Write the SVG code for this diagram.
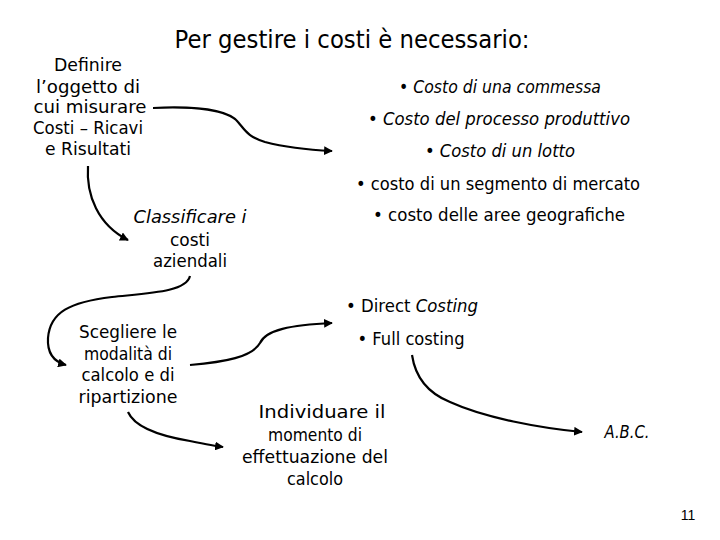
<svg xmlns="http://www.w3.org/2000/svg" width="720" height="540" viewBox="0 0 720 540">
<defs>
<style>
text{font-family:"DejaVu Sans","Liberation Sans",sans-serif;font-size:17.5px;fill:#000;text-anchor:middle}
.t{font-size:24px}
.it{font-style:italic}
.n{font-family:"Liberation Sans",sans-serif;font-size:14px}
.c{fill:none;stroke:#000;stroke-width:2.2}
</style>
<marker id="ah" viewBox="0 0 10 10" refX="9" refY="5" markerWidth="4" markerHeight="4" orient="auto" markerUnits="strokeWidth">
<path d="M0,0 L10,5 L0,10 Z" fill="#000"/>
</marker>
</defs>
<rect width="720" height="540" fill="#fff"/>
<g id="title"><text class="t" x="352" y="48" textLength="355" lengthAdjust="spacingAndGlyphs">Per gestire i costi è necessario:</text></g>
<g id="definire">
<text x="88" y="71" textLength="68" lengthAdjust="spacingAndGlyphs">Definire</text>
<text x="88" y="93" textLength="104" lengthAdjust="spacingAndGlyphs">l’oggetto di</text>
<text x="90" y="113" textLength="113" lengthAdjust="spacingAndGlyphs">cui misurare</text>
<text x="88" y="134" textLength="110" lengthAdjust="spacingAndGlyphs">Costi – Ricavi</text>
<text x="88" y="155" textLength="86" lengthAdjust="spacingAndGlyphs">e Risultati</text>
</g>
<g id="lista">
<text class="it" x="500" y="93" textLength="202" lengthAdjust="spacingAndGlyphs">• Costo di una commessa</text>
<text class="it" x="499" y="125" textLength="262" lengthAdjust="spacingAndGlyphs">• Costo del processo produttivo</text>
<text class="it" x="500" y="157" textLength="150" lengthAdjust="spacingAndGlyphs">• Costo di un lotto</text>
<text x="498" y="190" textLength="284" lengthAdjust="spacingAndGlyphs">• costo di un segmento di mercato</text>
<text x="499" y="221" textLength="252" lengthAdjust="spacingAndGlyphs">• costo delle aree geografiche</text>
</g>
<g id="classificare">
<text class="it" x="190" y="223" textLength="113" lengthAdjust="spacingAndGlyphs">Classificare i</text>
<text x="190" y="246" textLength="40" lengthAdjust="spacingAndGlyphs">costi</text>
<text x="190" y="267" textLength="74" lengthAdjust="spacingAndGlyphs">aziendali</text>
</g>
<g id="metodi">
<text x="412" y="312" textLength="132" lengthAdjust="spacingAndGlyphs">• Direct <tspan class="it">Costing</tspan></text>
<text x="411" y="345" textLength="107" lengthAdjust="spacingAndGlyphs">• Full costing</text>
</g>
<g id="scegliere">
<text x="128" y="338" textLength="98" lengthAdjust="spacingAndGlyphs">Scegliere le</text>
<text x="128" y="360" textLength="88" lengthAdjust="spacingAndGlyphs">modalità di</text>
<text x="128" y="381" textLength="93" lengthAdjust="spacingAndGlyphs">calcolo e di</text>
<text x="128" y="403" textLength="99" lengthAdjust="spacingAndGlyphs">ripartizione</text>
</g>
<g id="individuare">
<text x="322" y="418" textLength="127" lengthAdjust="spacingAndGlyphs">Individuare il</text>
<text x="315" y="441" textLength="94" lengthAdjust="spacingAndGlyphs">momento di</text>
<text x="315" y="463" textLength="146" lengthAdjust="spacingAndGlyphs">effettuazione del</text>
<text x="315" y="485" textLength="56" lengthAdjust="spacingAndGlyphs">calcolo</text>
</g>
<g id="abc"><text class="it" x="627" y="438" textLength="45" lengthAdjust="spacingAndGlyphs">A.B.C.</text></g>
<g id="pagina"><text class="n" x="688" y="520">11</text></g>
<g id="connettori">
<path class="c" marker-end="url(#ah)" d="M153,108 C195,106 228,110 238,122 C245,130 248,137 265,142 C288,148 312,150 332,151"/>
<path class="c" marker-end="url(#ah)" d="M88,166 C86,195 98,225 128,240"/>
<path class="c" marker-end="url(#ah)" d="M190,276 C186,292 150,293 112,297 C70,302 50,312 48,338 C47,354 55,362 66,365"/>
<path class="c" marker-end="url(#ah)" d="M190,365 C225,362 252,357 260,343 C266,330 290,325 332,323"/>
<path class="c" marker-end="url(#ah)" d="M128,412 C135,428 160,436 190,441 C205,444 215,446 223,447"/>
<path class="c" marker-end="url(#ah)" d="M412,355 C415,375 425,392 450,402 C485,418 540,428 582,432"/>
</g>
</svg>
